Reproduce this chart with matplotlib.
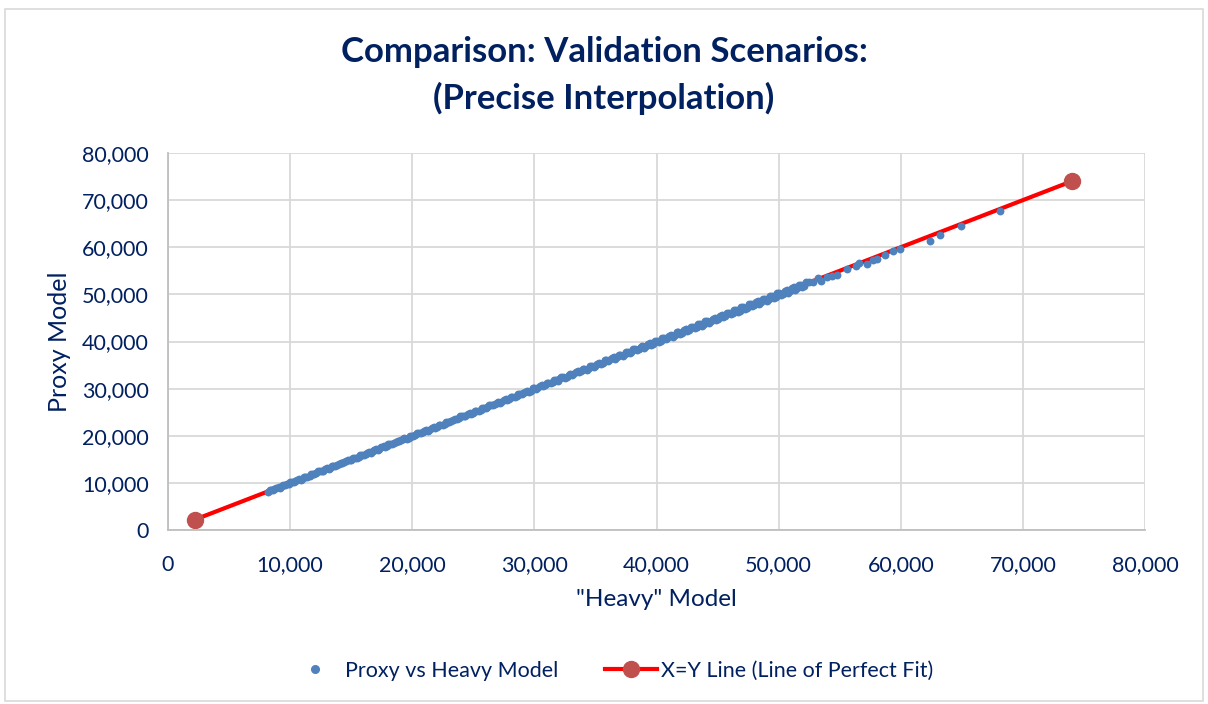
#!/usr/bin/env python3
"""
Proxy vs heavy model comparison scatter with the X=Y reference line.
Saves out.png.
"""
import matplotlib.pyplot as plt
from matplotlib.patches import Rectangle
from matplotlib.lines import Line2D
from matplotlib.ticker import FuncFormatter

plt.rcParams['font.family'] = ['Lato', 'DejaVu Sans']

NAVY = "#002060"

# "Heavy" model values (x)
heavy = [
    8200, 8450, 8700, 9050, 9300, 9550, 9900, 10150, 10400, 10700,
    11000, 11250, 11600, 11850, 12100, 12450, 12700, 13000, 13300, 13550,
    13850, 14150, 14400, 14750, 15000, 15300, 15600, 15850, 16200, 16450,
    16750, 17050, 17300, 17650, 17900, 18200, 18500, 18800, 19100, 19350,
    19700, 19950, 20250, 20550, 20850, 21150, 21400, 21750, 22000, 22300,
    22650, 22900, 23200, 23500, 23800, 24100, 24350, 24700, 24950, 25250,
    25600, 25850, 26150, 26450, 26750, 27050, 27300, 27650, 27900, 28200,
    28550, 28800, 29100, 29400, 29700, 30000, 30250, 30600, 30850, 31150,
    31500, 31750, 32050, 32350, 32650, 32950, 33200, 33550, 33800, 34100,
    34450, 34700, 35000, 35300, 35600, 35900, 36150, 36500, 36750, 37050,
    37400, 37650, 37950, 38250, 38550, 38850, 39100, 39450, 39700, 40000,
    40350, 40600, 40900, 41200, 41500, 41800, 42050, 42400, 42650, 42950,
    43300, 43550, 43850, 44150, 44450, 44750, 45000, 45350, 45600, 45900,
    46250, 46500, 46800, 47100, 47400, 47700, 47950, 48300, 48550, 48850,
    49200, 49450, 49750, 50050, 50350, 50650, 50900, 51250, 51500, 51800,
    52100, 52450, 52800, 53260, 53460, 53950, 54360, 54770, 55590, 56350,
    56570, 57230, 57720, 58040, 58670, 59400, 59900, 62380, 63230, 64900,
    68140,
]

# Proxy model values (y)
proxy = [
    8150, 8520, 8640, 9120, 9260, 9610, 9850, 10230, 10350, 10760,
    10920, 11300, 11540, 11930, 12050, 12510, 12620, 13080, 13240, 13610,
    13780, 14220, 14330, 14820, 14940, 15370, 15520, 15910, 16130, 16540,
    16680, 17120, 17220, 17730, 17840, 18280, 18410, 18870, 19020, 19440,
    19620, 20030, 20170, 20640, 20780, 21210, 21320, 21830, 21930, 22380,
    22560, 22990, 23110, 23590, 23710, 24180, 24260, 24790, 24870, 25340,
    25500, 25940, 26060, 26550, 26650, 27140, 27200, 27730, 27820, 28310,
    28440, 28900, 29000, 29500, 29590, 30090, 30150, 30700, 30740, 31250,
    31380, 31860, 31940, 32460, 32530, 33060, 33080, 33660, 33690, 34220,
    34320, 34820, 34870, 35420, 35470, 36020, 36030, 36620, 36620, 37180,
    37260, 37790, 37820, 38380, 38410, 38990, 38960, 39590, 39560, 40140,
    40200, 40750, 40760, 41350, 41340, 41960, 41900, 42560, 42490, 43120,
    43130, 43720, 43680, 44330, 44270, 44940, 44810, 45560, 45400, 46120,
    46030, 46730, 46560, 47350, 47150, 47960, 47690, 48560, 48280, 49120,
    48920, 49730, 49460, 50330, 50080, 50920, 50640, 51490, 51260, 52050,
    51870, 52650, 52700, 53440, 52930, 53650, 53930, 54140, 55410, 56050,
    56620, 56410, 57320, 57540, 58320, 59240, 59660, 61360, 62700, 64540,
    67730,
]

# more scenarios packed into the dense band (x = heavy, y = proxy)
heavy_band = [
    8330, 8580, 8880, 9180, 9420, 9730, 10030, 10280, 10550, 10850,
    11130, 11420, 11730, 11980, 12280, 12580, 12850, 13150, 13420, 13700,
    14000, 14280, 14580, 14880, 15150, 15450, 15730, 16030, 16330, 16600,
    16900, 17180, 17480, 17780, 18050, 18350, 18650, 18950, 19230, 19530,
    19830, 20100, 20400, 20700, 21000, 21280, 21580, 21880, 22150, 22480,
    22780, 23050, 23350, 23650, 23950, 24230, 24530, 24830, 25100, 25430,
    25730, 26000, 26300, 26600, 26900, 27180, 27480, 27780, 28050, 28380,
    28680, 28950, 29250, 29550, 29850, 30130, 30430, 30730, 31000, 31330,
    31630, 31900, 32200, 32500, 32800, 33080, 33380, 33680, 33950, 34280,
    34580, 34850, 35150, 35450, 35750, 36030, 36330, 36630, 36900, 37230,
    37530, 37800, 38100, 38400, 38700, 38980, 39280, 39580, 39850, 40180,
    40480, 40750, 41050, 41350, 41650, 41930, 42230, 42530, 42800, 43130,
    43430, 43700, 44000, 44300, 44600, 44880, 45180, 45480, 45750, 46080,
    46380, 46650, 46950, 47250, 47550, 47830, 48130, 48430, 48700, 49030,
    49330, 49600, 49900, 50200, 50500, 50780, 51080, 51380, 51650, 51950,
    52280,
]

proxy_band = [
    8470, 8470, 8940, 9010, 9540, 9690, 10210, 10150, 10580, 10690,
    11270, 11310, 11790, 11810, 12420, 12460, 12900, 12990, 13560, 13590,
    14060, 14120, 14720, 14760, 15210, 15290, 15870, 15910, 16390, 16430,
    17040, 17060, 17540, 17610, 18190, 18230, 18710, 18780, 19370, 19410,
    19890, 19930, 20540, 20570, 21060, 21110, 21730, 21750, 22210, 22310,
    22930, 22920, 23410, 23480, 24100, 24090, 24600, 24650, 25260, 25290,
    25800, 25820, 26460, 26450, 26980, 26990, 27650, 27620, 28130, 28190,
    28850, 28790, 29330, 29350, 30030, 29960, 30520, 30520, 31190, 31150,
    31730, 31690, 32400, 32310, 32910, 32860, 33590, 33480, 34070, 34050,
    34800, 34640, 35280, 35210, 35980, 35810, 36470, 36380, 37140, 36990,
    37680, 37540, 38350, 38150, 38860, 38720, 39540, 39310, 40020, 39910,
    40760, 40470, 41230, 41060, 41940, 41640, 42420, 42230, 43110, 42830,
    43640, 43390, 44320, 43990, 44830, 44560, 45510, 45150, 46000, 45740,
    46730, 46300, 47220, 46890, 47920, 47460, 48420, 48040, 49080, 48640,
    49610, 49200, 50280, 49800, 50780, 50370, 51450, 51000, 51950, 51560,
    52620,
]

# X=Y line end points
line_x = [2200, 74000]
line_y = [2200, 74000]


def thousands(v, _pos):
    return f"{int(v):,}"


fig = plt.figure(figsize=(12.08, 7.04), dpi=100)
fig.patches.append(Rectangle((5 / 1208, 0.004), 1198 / 1208, 1 - 9 / 704 - 0.004,
                             transform=fig.transFigure, fill=False,
                             edgecolor="#D9D9D9", linewidth=1.2))

ax = fig.add_axes([168 / 1208, 1 - 530 / 704, 977 / 1208, 377 / 704])

ax.plot(line_x, line_y, color="#FF0000", linewidth=3, marker="o",
        markersize=11.5, markerfacecolor="#C0504D", markeredgecolor="#C0504D",
        zorder=2)
ax.scatter(heavy + heavy_band, proxy + proxy_band, s=32, color="#4F81BD",
           linewidths=0, zorder=3)

ax.set_xlim(0, 80000)
ax.set_ylim(0, 80000)
ax.set_xticks(range(0, 80001, 10000))
ax.set_yticks(range(0, 80001, 10000))
ax.xaxis.set_major_formatter(FuncFormatter(thousands))
ax.yaxis.set_major_formatter(FuncFormatter(thousands))
ax.tick_params(length=0, labelsize=15.5, colors=NAVY)
ax.tick_params(axis="y", pad=14)
ax.tick_params(axis="x", pad=18)
ax.grid(True, color="#D9D9D9", linewidth=1.3)
ax.set_axisbelow(True)
for side in ("top", "right"):
    ax.spines[side].set_visible(False)
for side in ("left", "bottom"):
    ax.spines[side].set_color("#BFBFBF")
    ax.spines[side].set_linewidth(1.3)

ax.set_xlabel('"Heavy" Model', fontsize=17.5, color=NAVY, labelpad=10)
ax.set_ylabel("Proxy Model", fontsize=18, color=NAVY, labelpad=8)

fig.text(0.5, 1 - 52 / 704, "Comparison: Validation Scenarios:", ha="center",
         va="center", fontsize=25, fontweight="bold", color=NAVY)
fig.text(0.5, 1 - 98 / 704, "(Precise Interpolation)", ha="center",
         va="center", fontsize=25, fontweight="bold", color=NAVY)

handles = [
    Line2D([], [], linestyle="none", marker="o", markersize=5.5,
           color="#4F81BD", label="Proxy vs Heavy Model"),
    Line2D([], [], color="#FF0000", linewidth=3, marker="o", markersize=11.5,
           markerfacecolor="#C0504D", markeredgecolor="#C0504D",
           label="X=Y Line (Line of Perfect Fit)"),
]
fig.legend(handles=handles, loc="center", bbox_to_anchor=(0.506, 1 - 671 / 704),
           ncol=2, frameon=False, fontsize=15.5, labelcolor=NAVY,
           handlelength=2.4, columnspacing=2.2, handletextpad=0.2)

fig.savefig("out.png", dpi=100)
plt.close(fig)
